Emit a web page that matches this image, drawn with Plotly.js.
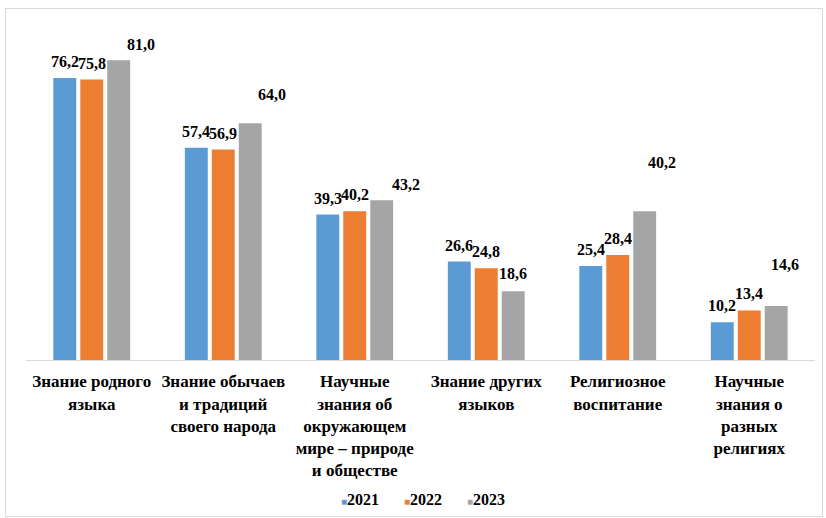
<!DOCTYPE html>
<html>
<head>
<meta charset="utf-8">
<script src="https://cdn.plot.ly/plotly-3.0.1.min.js"></script>
<style>
  html, body { margin: 0; padding: 0; background: #fff; }
  #chart { width: 826px; height: 518px; }
  #frame { position: absolute; left: 5px; top: 8px; width: 816px; height: 507px; border: 1px solid #d9d9d9; pointer-events: none; }
  #preload { position: absolute; left: -9999px; top: 0; font-family: 'Liberation Serif'; font-weight: bold; font-size: 16px; }
</style>
</head>
<body>
<div id="preload">Знание 2021 76,2 <span style="font-weight:normal">Знание</span></div>
<div id="chart"></div>
<div id="frame"></div>
<script>
const categories = [
  "Знание родного<br>языка",
  "Знание обычаев<br>и традиций<br>своего народа",
  "Научные<br>знания об<br>окружающем<br>мире – природе<br>и обществе",
  "Знание других<br>языков",
  "Религиозное<br>воспитание",
  "Научные<br>знания о<br>разных<br>религиях"
];
const seriesNames = ["2021", "2022", "2023"];
const values2021 = [76.2, 57.4, 39.3, 26.6, 25.4, 10.2];
const values2022 = [75.8, 56.9, 40.2, 24.8, 28.4, 13.4];
const values2023 = [81.0, 64.0, 43.2, 18.6, 40.2, 14.6];
const colors = ["#5b9bd5", "#ed7d31", "#a5a5a5"];

// label placement (styling only): extra pixel offsets for the 2023 labels
const label2023DX = [22, 22, 24, 0, 17, 9];
const label2023DY = [9, 22, 9, 11, 42, 35];

const allValues = [values2021, values2022, values2023];
const serif = "Liberation Serif";

const traces = allValues.map((vals, i) => ({
  type: "bar",
  name: seriesNames[i],
  x: categories,
  y: vals,
  marker: { color: colors[i] },
  hoverinfo: "none",
  showlegend: false
}));

const slot = 27;
const annotations = [];
allValues.forEach((vals, s) => {
  vals.forEach((v, k) => {
    const dx = (s - 1) * slot + (s === 2 ? label2023DX[k] : 0);
    const dy = (s === 2 ? label2023DY[k] : 10) - 4;
    annotations.push({
      x: categories[k], y: v, xref: "x", yref: "y",
      text: "<b>" + v.toFixed(1).replace(".", ",") + "</b>",
      showarrow: false, xanchor: "center", yanchor: "bottom",
      xshift: dx, yshift: dy,
      font: { family: serif, size: 16, color: "#000" }
    });
  });
});

// legend built from the series names and colours
const legendX0 = 339, legendStep = 63;
seriesNames.forEach((name, i) => {
  annotations.push({
    xref: "paper", yref: "paper",
    x: (legendX0 + i * legendStep - 26) / (826 - 26 - 11),
    y: -(499 - 360) / 330,
    xanchor: "left", yanchor: "middle", showarrow: false,
    text: "<span style='color:" + colors[i] + ";font-size:10px'>■</span><b>" + name + "</b>",
    font: { family: serif, size: 16, color: "#000" }
  });
});

const layout = {
  width: 826, height: 518,
  margin: { l: 26, r: 11, t: 30, b: 158, autoexpand: false },
  paper_bgcolor: "#fff", plot_bgcolor: "#fff",
  barmode: "group", bargap: 0.385, bargroupgap: 0.15,
  showlegend: false,
  font: { family: serif },
  xaxis: {
    type: "category",
    showline: true, linecolor: "#d9d9d9", linewidth: 1,
    ticks: "", showgrid: false, zeroline: false,
    tickfont: { family: serif, size: 17, color: "#000" },
    tickprefix: "<b>", ticksuffix: "</b>",
    ticklabelstandoff: 6,
    automargin: false
  },
  yaxis: { range: [0, 89.2], visible: false, showgrid: false, zeroline: false },
  annotations: annotations
};

// touch the preload text so the serif face is resolved before drawing
void getComputedStyle(document.getElementById("preload")).fontFamily;
void document.getElementById("preload").offsetWidth;

Plotly.newPlot("chart", traces, layout, { displayModeBar: false }).then(() => {
  document.querySelectorAll("#chart text").forEach(t => { void getComputedStyle(t).fontFamily; });
  if (document.fonts && document.fonts.ready) {
    document.fonts.ready.then(() => Plotly.relayout("chart", {}));
  }
});
</script>
</body>
</html>
